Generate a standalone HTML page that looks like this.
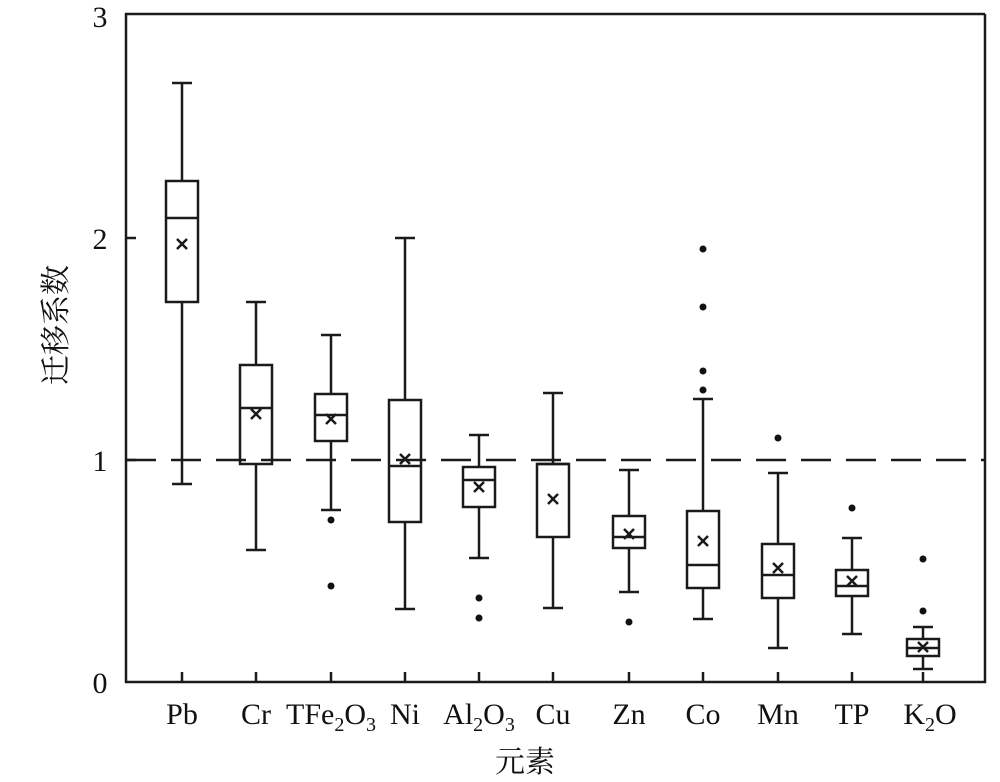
<!DOCTYPE html>
<html><head><meta charset="utf-8"><style>body{margin:0;background:#fff}</style></head><body>
<svg width="1000" height="777" xmlns="http://www.w3.org/2000/svg" font-family="'Liberation Serif','Noto Serif CJK SC',serif">
<g stroke="#1a1a1a" stroke-width="2.5" fill="none">
<path d="M985 14H126V682H985V14"/>
<path d="M126 238h10M126 460h10"/>
<path d="M182 682v-10M256 682v-10M331 682v-10M405 682v-10M479 682v-10M553 682v-10M629 682v-10M703 682v-10M778 682v-10M852 682v-10M923 682v-10"/>
<path d="M126 460H985" stroke-dasharray="30,15"/>
<!-- Pb -->
<path d="M182 83V181M182 302V484M172 83h20M172 484h20M166 218h32M177 239l10 10m0-10l-10 10"/><rect x="166" y="181" width="32" height="121"/>
<!-- Cr -->
<path d="M256 302V365M256 464V550M246 302h20M246 550h20M240 408h32M251 409l10 10m0-10l-10 10"/><rect x="240" y="365" width="32" height="99"/>
<!-- TFe -->
<path d="M331 335V394M331 441V510M321 335h20M321 510h20M315 415h32M326 414l10 10m0-10l-10 10"/><rect x="315" y="394" width="32" height="47"/>
<!-- Ni -->
<path d="M405 238V400M405 522V609M395 238h20M395 609h20M389 466h32M400 454l10 10m0-10l-10 10"/><rect x="389" y="400" width="32" height="122"/>
<!-- Al -->
<path d="M479 435V467M479 507V558M469 435h20M469 558h20M463 480h32M474 482l10 10m0-10l-10 10"/><rect x="463" y="467" width="32" height="40"/>
<!-- Cu -->
<path d="M553 393V464M553 537V608M543 393h20M543 608h20M537 464h32M548 494l10 10m0-10l-10 10"/><rect x="537" y="464" width="32" height="73"/>
<!-- Zn -->
<path d="M629 470V516M629 548V592M619 470h20M619 592h20M613 537h32M624 529l10 10m0-10l-10 10"/><rect x="613" y="516" width="32" height="32"/>
<!-- Co -->
<path d="M703 399V511M703 588V619M693 399h20M693 619h20M687 565h32M698 536l10 10m0-10l-10 10"/><rect x="687" y="511" width="32" height="77"/>
<!-- Mn -->
<path d="M778 473V544M778 598V648M768 473h20M768 648h20M762 575h32M773 563l10 10m0-10l-10 10"/><rect x="762" y="544" width="32" height="54"/>
<!-- TP -->
<path d="M852 538V570M852 596V634M842 538h20M842 634h20M836 586h32M847 576l10 10m0-10l-10 10"/><rect x="836" y="570" width="32" height="26"/>
<!-- K2O -->
<path d="M923 627V639M923 656V669M913 627h20M913 669h20M907 648h32M918 642l10 10m0-10l-10 10"/><rect x="907" y="639" width="32" height="17"/>
</g>
<g fill="#111">
<circle cx="331" cy="520" r="3.5"/><circle cx="331" cy="586" r="3.5"/>
<circle cx="479" cy="598" r="3.5"/><circle cx="479" cy="618" r="3.5"/>
<circle cx="629" cy="622" r="3.5"/>
<circle cx="703" cy="249" r="3.5"/><circle cx="703" cy="307" r="3.5"/><circle cx="703" cy="371" r="3.5"/><circle cx="703" cy="390" r="3.5"/>
<circle cx="778" cy="438" r="3.5"/><circle cx="852" cy="508" r="3.5"/>
<circle cx="923" cy="559" r="3.5"/><circle cx="923" cy="611" r="3.5"/>
</g>
<g font-size="30" fill="#111">
<text x="100" y="27" text-anchor="middle">3</text>
<text x="100" y="249" text-anchor="middle">2</text>
<text x="100" y="471" text-anchor="middle">1</text>
<text x="100" y="693" text-anchor="middle">0</text>
<g text-anchor="middle">
<text x="182" y="724">Pb</text><text x="256" y="724">Cr</text>
<text x="331" y="724">TFe<tspan font-size="20" dy="7">2</tspan><tspan dy="-7">O</tspan><tspan font-size="20" dy="7">3</tspan></text>
<text x="405" y="724">Ni</text>
<text x="479" y="724">Al<tspan font-size="20" dy="7">2</tspan><tspan dy="-7">O</tspan><tspan font-size="20" dy="7">3</tspan></text>
<text x="553" y="724">Cu</text><text x="629" y="724">Zn</text><text x="703" y="724">Co</text>
<text x="778" y="724">Mn</text><text x="852" y="724">TP</text>
<text x="930" y="724">K<tspan font-size="20" dy="7">2</tspan><tspan dy="-7">O</tspan></text>
<text x="525" y="772">元素</text>
<text transform="translate(66,325) rotate(-90)">迁移系数</text>
</g></g>
</svg>
</body></html>
